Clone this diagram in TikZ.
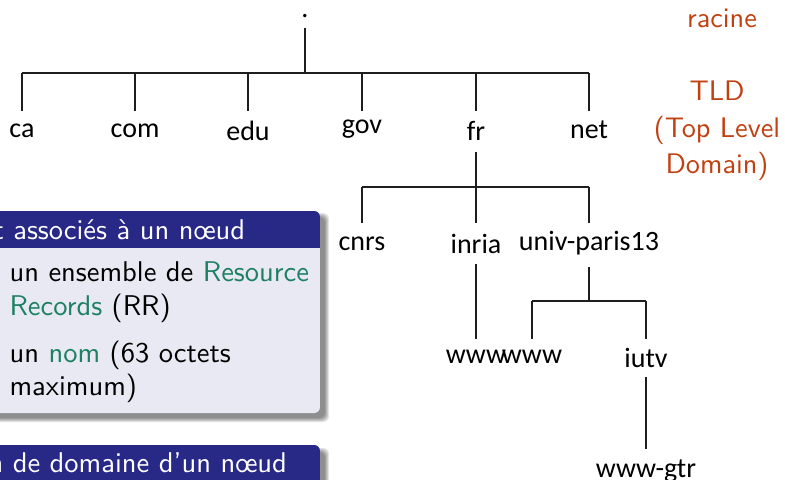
\documentclass[tikz,border=0pt]{standalone}
\usepackage{fontspec}
\newfontfamily\treefont{Carlito}
\definecolor{blocktitle}{RGB}{40,40,135}
\definecolor{blockbody}{RGB}{233,233,243}
\definecolor{exgreen}{RGB}{30,128,98}
\definecolor{alertred}{RGB}{192,64,16}
\definecolor{treeline}{RGB}{30,30,30}
\tikzset{
  dom/.style={font=\treefont\fontsize{10.5}{12}\selectfont, inner sep=0pt, anchor=base},
  edge/.style={draw=treeline, line width=0.45pt},
  note/.style={font=\sffamily\fontsize{10.6}{13}\selectfont, text=alertred, inner sep=0pt, anchor=base},
  boxtext/.style={font=\sffamily\fontsize{10.7}{13}\selectfont, inner sep=0pt, anchor=base west},
  boxtitle/.style={font=\sffamily\fontsize{10.7}{13}\selectfont, text=white, inner sep=0pt, anchor=base west},
}
\begin{document}
\begin{tikzpicture}[x=0.375pt, y=-0.375pt]
\useasboundingbox (0,0) rectangle (785,480);
\clip (0,0) rectangle (785,480);

% ---------- blocks (left) ----------
% soft drop shadows
\foreach \k in {0,1,2,3,4}{
  \fill[black, opacity=0.11, rounded corners=2.2pt] (-20+\k,213+\k) rectangle (329-\k,422-\k);
  \fill[black, opacity=0.11, rounded corners=2.2pt] (-20+\k,448+\k) rectangle (329-\k,600-\k);
}
% first block
\fill[blockbody, rounded corners=2.2pt] (-20,211) rectangle (320,413);
\begin{scope}
  \clip[rounded corners=2.2pt] (-20,211) rectangle (320,413);
  \fill[blocktitle] (-20,211) rectangle (320,248);
\end{scope}
\node[boxtitle] (t1) at (-7,239) {t associés à un nœud};
\node[boxtext] (i1a) at (9,281) {un ensemble de \textcolor{exgreen}{Resource}};
\node[boxtext] (i1b) at (9,315) {\textcolor{exgreen}{Records} (RR)};
\node[boxtext] (i2a) at (9,362) {un \textcolor{exgreen}{nom} (63 octets};
\node[boxtext] (i2b) at (9,395) {maximum)};

% second block
\fill[blockbody, rounded corners=2.2pt] (-20,445) rectangle (320,600);
\begin{scope}
  \clip[rounded corners=2.2pt] (-20,445) rectangle (320,600);
  \fill[blocktitle] (-20,445) rectangle (320,482);
\end{scope}
\node[boxtitle] (t2) at (-12,472) {n de domaine d’un nœud};

% ---------- side notes ----------
\node[note] (racine) at (722,27) {racine};
\node[note] (tld1) at (717,100) {TLD};
\node[note] (tld2) at (717,137) {(Top Level};
\node[note] (tld3) at (717,173) {Domain)};

% ---------- domain tree ----------
\node[dom] (root) at (305,17) {.};
\node[dom] (ca)   at (22,137)  {ca};
\node[dom] (com)  at (135,137) {com};
\node[dom] (edu)  at (248,140) {edu};
\node[dom] (gov)  at (362,133) {gov};
\node[dom] (fr)   at (476,140) {fr};
\node[dom] (net)  at (589,138) {net};
\node[dom] (cnrs)  at (362,250) {cnrs};
\node[dom] (inria) at (476,253) {inria};
\node[dom] (univ)  at (589,250) {univ-paris13};
\node[dom] (www1)  at (476,363) {www};
\node[dom] (www2)  at (532,363) {www};
\node[dom] (iutv)  at (646,367) {iutv};
\node[dom] (wgtr)  at (646,477) {www-gtr};

% vertical levels of the connectors
\coordinate (root-low) at (0,28);
\coordinate (bar0) at (0,73);
\coordinate (end1) at (0,111);
\coordinate (fr-low) at (0,152);
\coordinate (bar1) at (0,187);
\coordinate (end2) at (0,223);
\coordinate (inria-low) at (0,264);
\coordinate (univ-low) at (0,267);
\coordinate (bar2) at (0,301);
\coordinate (end3) at (0,339);
\coordinate (iutv-low) at (0,377);
\coordinate (end4) at (0,449);

% root -> TLDs
\draw[edge] (root |- root-low) -- (root |- bar0);
\draw[edge] (ca |- bar0) -- (net |- bar0);
\foreach \c in {ca,com,edu,gov,fr,net}
  \draw[edge] (\c |- bar0) -- (\c |- end1);
% fr -> subdomains
\draw[edge] (fr |- fr-low) -- (fr |- bar1);
\draw[edge] (cnrs |- bar1) -- (univ |- bar1);
\foreach \c in {cnrs,inria,univ}
  \draw[edge] (\c |- bar1) -- (\c |- end2);
% inria -> www
\draw[edge] (inria |- inria-low) -- (www1 |- end3);
% univ-paris13 -> www, iutv
\draw[edge] (univ |- univ-low) -- (univ |- bar2);
\draw[edge] (www2 |- bar2) -- (iutv |- bar2);
\foreach \c in {www2,iutv}
  \draw[edge] (\c |- bar2) -- (\c |- end3);
% iutv -> www-gtr
\draw[edge] (iutv |- iutv-low) -- (wgtr |- end4);
\end{tikzpicture}
\end{document}
